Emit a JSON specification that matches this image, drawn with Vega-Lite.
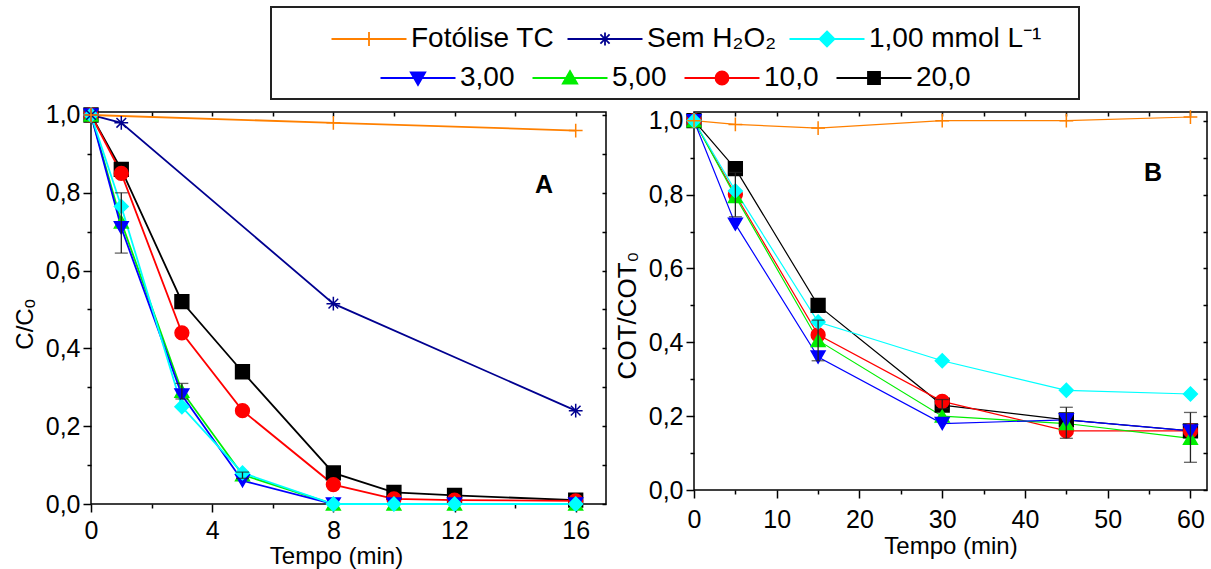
{
 "$schema": "https://vega.github.io/schema/vega-lite/v6.json",
 "background": "white",
 "padding": {"left": 12, "top": 6, "right": 0, "bottom": 0},
 "config": {
  "font": "Liberation Sans",
  "view": {"stroke": "black", "strokeWidth": 1.5},
  "axis": {"grid": false, "domain": false, "tickColor": "black", "tickWidth": 1.5, "labelColor": "black", "labelFont": "Liberation Sans", "labelFontSize": 25, "titleFont": "Liberation Sans", "titleFontSize": 24, "titleFontWeight": "normal", "titleColor": "black", "labelFlush": false, "labelOverlap": false},
  "legend": {"labelFont": "Liberation Sans", "labelColor": "black", "labelFontSize": 28, "labelLimit": 600}
 },
 "datasets": {
  "A": [
   {"serie": "20,0", "t": 0, "v": 1.0}, {"serie": "20,0", "t": 1, "v": 0.86}, {"serie": "20,0", "t": 3, "v": 0.52}, {"serie": "20,0", "t": 5, "v": 0.34}, {"serie": "20,0", "t": 8, "v": 0.08}, {"serie": "20,0", "t": 10, "v": 0.03}, {"serie": "20,0", "t": 12, "v": 0.022}, {"serie": "20,0", "t": 16, "v": 0.01},
   {"serie": "10,0", "t": 0, "v": 1.0}, {"serie": "10,0", "t": 1, "v": 0.85}, {"serie": "10,0", "t": 3, "v": 0.44}, {"serie": "10,0", "t": 5, "v": 0.24}, {"serie": "10,0", "t": 8, "v": 0.05}, {"serie": "10,0", "t": 10, "v": 0.013}, {"serie": "10,0", "t": 12, "v": 0.01}, {"serie": "10,0", "t": 16, "v": 0.008},
   {"serie": "5,00", "t": 0, "v": 1.0}, {"serie": "5,00", "t": 1, "v": 0.725}, {"serie": "5,00", "t": 3, "v": 0.29}, {"serie": "5,00", "t": 5, "v": 0.075}, {"serie": "5,00", "t": 8, "v": 0.0}, {"serie": "5,00", "t": 10, "v": 0.0}, {"serie": "5,00", "t": 12, "v": 0.0}, {"serie": "5,00", "t": 16, "v": 0.0},
   {"serie": "3,00", "t": 0, "v": 1.0}, {"serie": "3,00", "t": 1, "v": 0.71}, {"serie": "3,00", "t": 3, "v": 0.28}, {"serie": "3,00", "t": 5, "v": 0.06}, {"serie": "3,00", "t": 8, "v": 0.0}, {"serie": "3,00", "t": 10, "v": 0.0}, {"serie": "3,00", "t": 12, "v": 0.0}, {"serie": "3,00", "t": 16, "v": 0.0},
   {"serie": "1,00 mmol L⁻¹", "t": 0, "v": 1.0}, {"serie": "1,00 mmol L⁻¹", "t": 1, "v": 0.765}, {"serie": "1,00 mmol L⁻¹", "t": 3, "v": 0.25}, {"serie": "1,00 mmol L⁻¹", "t": 5, "v": 0.08}, {"serie": "1,00 mmol L⁻¹", "t": 8, "v": 0.0}, {"serie": "1,00 mmol L⁻¹", "t": 10, "v": 0.0}, {"serie": "1,00 mmol L⁻¹", "t": 12, "v": 0.0}, {"serie": "1,00 mmol L⁻¹", "t": 16, "v": 0.0},
   {"serie": "Sem H₂O₂", "t": 0, "v": 1.0}, {"serie": "Sem H₂O₂", "t": 1, "v": 0.98}, {"serie": "Sem H₂O₂", "t": 8, "v": 0.515}, {"serie": "Sem H₂O₂", "t": 16, "v": 0.24},
   {"serie": "Fotólise TC", "t": 0, "v": 1.0}, {"serie": "Fotólise TC", "t": 8, "v": 0.98}, {"serie": "Fotólise TC", "t": 16, "v": 0.96}
  ],
  "errA": [
   {"t": 1, "lo": 0.645, "hi": 0.8}, {"t": 3, "lo": 0.27, "hi": 0.31}, {"t": 5, "lo": 0.066, "hi": 0.082}
  ],
  "B": [
   {"serie": "20,0", "t": 0, "v": 1.0}, {"serie": "20,0", "t": 5, "v": 0.87}, {"serie": "20,0", "t": 15, "v": 0.5}, {"serie": "20,0", "t": 30, "v": 0.23}, {"serie": "20,0", "t": 45, "v": 0.19}, {"serie": "20,0", "t": 60, "v": 0.16},
   {"serie": "10,0", "t": 0, "v": 1.0}, {"serie": "10,0", "t": 5, "v": 0.8}, {"serie": "10,0", "t": 15, "v": 0.42}, {"serie": "10,0", "t": 30, "v": 0.24}, {"serie": "10,0", "t": 45, "v": 0.16}, {"serie": "10,0", "t": 60, "v": 0.16},
   {"serie": "5,00", "t": 0, "v": 1.0}, {"serie": "5,00", "t": 5, "v": 0.795}, {"serie": "5,00", "t": 15, "v": 0.405}, {"serie": "5,00", "t": 30, "v": 0.2}, {"serie": "5,00", "t": 45, "v": 0.18}, {"serie": "5,00", "t": 60, "v": 0.14},
   {"serie": "3,00", "t": 0, "v": 1.0}, {"serie": "3,00", "t": 5, "v": 0.72}, {"serie": "3,00", "t": 15, "v": 0.36}, {"serie": "3,00", "t": 30, "v": 0.18}, {"serie": "3,00", "t": 45, "v": 0.19}, {"serie": "3,00", "t": 60, "v": 0.16},
   {"serie": "1,00 mmol L⁻¹", "t": 0, "v": 1.0}, {"serie": "1,00 mmol L⁻¹", "t": 5, "v": 0.81}, {"serie": "1,00 mmol L⁻¹", "t": 15, "v": 0.455}, {"serie": "1,00 mmol L⁻¹", "t": 30, "v": 0.35}, {"serie": "1,00 mmol L⁻¹", "t": 45, "v": 0.27}, {"serie": "1,00 mmol L⁻¹", "t": 60, "v": 0.26},
   {"serie": "Fotólise TC", "t": 0, "v": 1.0}, {"serie": "Fotólise TC", "t": 5, "v": 0.99}, {"serie": "Fotólise TC", "t": 15, "v": 0.98}, {"serie": "Fotólise TC", "t": 30, "v": 1.0}, {"serie": "Fotólise TC", "t": 45, "v": 1.0}, {"serie": "Fotólise TC", "t": 60, "v": 1.01}
  ],
  "errB": [
   {"t": 5, "lo": 0.74, "hi": 0.86}, {"t": 15, "lo": 0.35, "hi": 0.46}, {"t": 30, "lo": 0.22, "hi": 0.245}, {"t": 45, "lo": 0.14, "hi": 0.224}, {"t": 60, "lo": 0.075, "hi": 0.21}
  ]
 },
 "spacing": 2,
 "vconcat": [
  {
   "spacing": 10,
   "hconcat": [
    {"width": 169, "height": 92, "view": {"stroke": null}, "data": {"values": []}, "mark": "point", "encoding": {}},
    {
     "width": 808, "height": 92,
     "view": {"stroke": "#222", "strokeWidth": 2},
     "resolve": {"scale": {"fill": "independent", "stroke": "independent", "shape": "independent"}},
     "layer": [
      {
       "data": {"values": []},
       "mark": {"type": "point", "filled": true, "opacity": 1},
       "encoding": {
        "fill": {"field": "serie", "type": "nominal", "scale": {"domain": ["Fotólise TC", "Sem H₂O₂", "1,00 mmol L⁻¹"], "range": ["#FF8000", "#000090", "#00FFFF"]},
          "legend": {"title": null, "orient": "none", "legendX": 59, "legendY": 18, "direction": "horizontal", "columns": 3, "symbolSize": 400, "symbolStrokeWidth": 1.8, "symbolOffset": 25, "labelOffset": 28, "columnPadding": 8, "padding": 0}},
        "stroke": {"field": "serie", "type": "nominal", "scale": {"domain": ["Fotólise TC", "Sem H₂O₂", "1,00 mmol L⁻¹"], "range": ["#FF8000", "#000090", "#00FFFF"]},
          "legend": {"title": null, "orient": "none", "legendX": 59, "legendY": 18, "direction": "horizontal", "columns": 3, "symbolSize": 400, "symbolStrokeWidth": 1.8, "symbolOffset": 25, "labelOffset": 28, "columnPadding": 8, "padding": 0}},
        "shape": {"field": "serie", "type": "nominal", "scale": {"domain": ["Fotólise TC", "Sem H₂O₂", "1,00 mmol L⁻¹"], "range": ["M-3.75,0H3.75M0,-0.7V0.7", "M-3.75,0H3.75M0,-0.65V0.65M-0.46,-0.46L0.46,0.46M-0.46,0.46L0.46,-0.46", "M-3.75,0H3.75M0,-0.75L0.75,0L0,0.75L-0.75,0Z"]},
          "legend": {"title": null, "orient": "none", "legendX": 59, "legendY": 18, "direction": "horizontal", "columns": 3, "symbolSize": 400, "symbolStrokeWidth": 1.8, "symbolOffset": 25, "labelOffset": 28, "columnPadding": 8, "padding": 0}}
       }
      },
      {
       "data": {"values": []},
       "mark": {"type": "point", "filled": true, "opacity": 1},
       "encoding": {
        "fill": {"field": "serie", "type": "nominal", "scale": {"domain": ["3,00", "5,00", "10,0", "20,0"], "range": ["#0000FF", "#00EE00", "#FF0000", "#000000"]},
          "legend": {"title": null, "orient": "none", "legendX": 108, "legendY": 57, "direction": "horizontal", "columns": 4, "symbolSize": 400, "symbolStrokeWidth": 1.8, "symbolOffset": 25, "labelOffset": 28, "columnPadding": 13, "padding": 0}},
        "stroke": {"field": "serie", "type": "nominal", "scale": {"domain": ["3,00", "5,00", "10,0", "20,0"], "range": ["#0000FF", "#00EE00", "#FF0000", "#000000"]},
          "legend": {"title": null, "orient": "none", "legendX": 108, "legendY": 57, "direction": "horizontal", "columns": 4, "symbolSize": 400, "symbolStrokeWidth": 1.8, "symbolOffset": 25, "labelOffset": 28, "columnPadding": 13, "padding": 0}},
        "shape": {"field": "serie", "type": "nominal", "scale": {"domain": ["3,00", "5,00", "10,0", "20,0"], "range": ["M-3.75,0H3.75M-0.72,-0.55L0.72,-0.55L0,0.7Z", "M-3.75,0H3.75M-0.72,0.55L0.72,0.55L0,-0.7Z", "M-3.75,0H3.75M-0.65,0A0.65,0.65,0,1,0,0.65,0A0.65,0.65,0,1,0,-0.65,0Z", "M-3.75,0H3.75M-0.6,-0.6H0.6V0.6H-0.6Z"]},
          "legend": {"title": null, "orient": "none", "legendX": 108, "legendY": 57, "direction": "horizontal", "columns": 4, "symbolSize": 400, "symbolStrokeWidth": 1.8, "symbolOffset": 25, "labelOffset": 28, "columnPadding": 13, "padding": 0}}
       }
      }
     ]
    }
   ]
  },
  {
   "spacing": 88,
   "bounds": "flush",
   "hconcat": [
    {
     "width": 515, "height": 392,
     "title": {"text": "A", "anchor": "end", "frame": "group", "orient": "top", "offset": -95, "dx": -53, "fontSize": 25, "fontWeight": "bold", "font": "Liberation Sans", "color": "black"},
     "data": {"name": "A"},
     "resolve": {"axis": {"x": "independent", "y": "independent"}},
     "layer": [
      {
       "data": {"values": []},
       "mark": "point",
       "encoding": {
        "x": {"field": "t", "type": "quantitative", "scale": {"domain": [0, 17], "nice": false, "zero": false},
          "axis": {"orient": "bottom", "values": [0, 4, 8, 12, 16], "tickSize": 8, "labelPadding": 6, "title": "Tempo (min)", "titlePadding": 1, "titleX": 245}},
        "y": {"field": "v", "type": "quantitative", "scale": {"domain": [0, 1.0077], "nice": false, "zero": false},
          "axis": {"orient": "left", "values": [0, 0.2, 0.4, 0.6, 0.8, 1.0], "tickSize": 8, "labelPadding": 3, "labelExpr": "replace(format(datum.value, '.1f'), '.', ',')", "title": "C/Cₒ", "titlePadding": 8, "titleY": 212}}
       }
      },
      {
       "data": {"values": []},
       "mark": "point",
       "encoding": {
        "x": {"field": "t", "type": "quantitative", "scale": {"domain": [0, 17], "nice": false, "zero": false},
          "axis": {"orient": "bottom", "values": [2, 6, 10, 14], "tickSize": 4, "labels": false, "title": null}},
        "y": {"field": "v", "type": "quantitative", "scale": {"domain": [0, 1.0077], "nice": false, "zero": false},
          "axis": {"orient": "left", "values": [0.1, 0.3, 0.5, 0.7, 0.9], "tickSize": 4, "labels": false, "title": null}}
       }
      },
      {
       "data": {"values": []},
       "mark": "point",
       "encoding": {
        "x": {"field": "t", "type": "quantitative", "scale": {"domain": [0, 17], "nice": false, "zero": false},
          "axis": {"orient": "top", "values": [0, 2, 4, 6, 8, 10, 12, 14, 16], "tickSize": -4, "labels": false, "title": null}},
        "y": {"field": "v", "type": "quantitative", "scale": {"domain": [0, 1.0077], "nice": false, "zero": false},
          "axis": {"orient": "right", "values": [0, 0.1, 0.2, 0.3, 0.4, 0.5, 0.6, 0.7, 0.8, 0.9, 1.0], "tickSize": -4, "labels": false, "title": null}}
       }
      },
      {
       "mark": {"type": "line", "strokeWidth": 1.8},
       "encoding": {
        "x": {"field": "t", "type": "quantitative", "scale": {"domain": [0, 17], "nice": false, "zero": false}, "axis": null},
        "y": {"field": "v", "type": "quantitative", "scale": {"domain": [0, 1.0077], "nice": false, "zero": false}, "axis": null},
        "stroke": {"field": "serie", "type": "nominal", "legend": null, "scale": {"domain": ["Fotólise TC", "Sem H₂O₂", "1,00 mmol L⁻¹", "3,00", "5,00", "10,0", "20,0"], "range": ["#FF8000", "#000090", "#00FFFF", "#0000FF", "#00EE00", "#FF0000", "#000000"]}}
       }
      },
      {
       "mark": {"type": "point", "filled": true, "size": 190, "opacity": 1, "strokeWidth": 1.5},
       "encoding": {
        "x": {"field": "t", "type": "quantitative", "scale": {"domain": [0, 17], "nice": false, "zero": false}, "axis": null},
        "y": {"field": "v", "type": "quantitative", "scale": {"domain": [0, 1.0077], "nice": false, "zero": false}, "axis": null},
        "fill": {"field": "serie", "type": "nominal", "legend": null, "scale": {"domain": ["Fotólise TC", "Sem H₂O₂", "1,00 mmol L⁻¹", "3,00", "5,00", "10,0", "20,0"], "range": ["#FF8000", "#000090", "#00FFFF", "#0000FF", "#00EE00", "#FF0000", "#000000"]}},
        "stroke": {"field": "serie", "type": "nominal", "legend": null, "scale": {"domain": ["Fotólise TC", "Sem H₂O₂", "1,00 mmol L⁻¹", "3,00", "5,00", "10,0", "20,0"], "range": ["#FF8000", "#000090", "#00FFFF", "#0000FF", "#00EE00", "#FF0000", "#000000"]}},
        "shape": {"field": "serie", "type": "nominal", "legend": null, "scale": {"domain": ["Fotólise TC", "Sem H₂O₂", "1,00 mmol L⁻¹", "3,00", "5,00", "10,0", "20,0"], "range": ["M-1,0H1M0,-1V1", "M-1,0H1M0,-1V1M-0.7,-0.7L0.7,0.7M-0.7,0.7L0.7,-0.7", "M0,-1L1,0L0,1L-1,0Z", "triangle-down", "triangle-up", "circle", "square"]}}
       }
      },
      {
       "data": {"name": "errA"},
       "mark": {"type": "errorbar", "ticks": {"size": 13, "color": "#222", "thickness": 1.3}, "rule": {"color": "#222", "strokeWidth": 1.3}},
       "encoding": {
        "x": {"field": "t", "type": "quantitative", "scale": {"domain": [0, 17], "nice": false, "zero": false}, "axis": null},
        "y": {"field": "lo", "type": "quantitative", "scale": {"domain": [0, 1.0077], "nice": false, "zero": false}, "axis": null},
        "y2": {"field": "hi"}
       }
      }
     ]
    },
    {
     "width": 513, "height": 378,
     "title": {"text": "B", "anchor": "end", "frame": "group", "orient": "top", "offset": -79, "dx": -45, "fontSize": 25, "fontWeight": "bold", "font": "Liberation Sans", "color": "black"},
     "data": {"name": "B"},
     "resolve": {"axis": {"x": "independent", "y": "independent"}},
     "layer": [
      {
       "data": {"values": []},
       "mark": "point",
       "encoding": {
        "x": {"field": "t", "type": "quantitative", "scale": {"domain": [0, 62], "nice": false, "zero": false},
          "axis": {"orient": "bottom", "values": [0, 10, 20, 30, 40, 50, 60], "tickSize": 8, "labelPadding": 9, "title": "Tempo (min)", "titlePadding": 2}},
        "y": {"field": "v", "type": "quantitative", "scale": {"domain": [0, 1.0236], "nice": false, "zero": false},
          "axis": {"orient": "left", "values": [0, 0.2, 0.4, 0.6, 0.8, 1.0], "tickSize": 8, "labelPadding": 3, "labelExpr": "replace(format(datum.value, '.1f'), '.', ',')", "title": "COT/COT₀", "titleFontSize": 26, "titlePadding": 8, "titleY": 203}}
       }
      },
      {
       "data": {"values": []},
       "mark": "point",
       "encoding": {
        "x": {"field": "t", "type": "quantitative", "scale": {"domain": [0, 62], "nice": false, "zero": false},
          "axis": {"orient": "bottom", "values": [5, 15, 25, 35, 45, 55], "tickSize": 4, "labels": false, "title": null}},
        "y": {"field": "v", "type": "quantitative", "scale": {"domain": [0, 1.0236], "nice": false, "zero": false},
          "axis": {"orient": "left", "values": [0.1, 0.3, 0.5, 0.7, 0.9], "tickSize": 4, "labels": false, "title": null}}
       }
      },
      {
       "data": {"values": []},
       "mark": "point",
       "encoding": {
        "x": {"field": "t", "type": "quantitative", "scale": {"domain": [0, 62], "nice": false, "zero": false},
          "axis": {"orient": "top", "values": [0, 5, 10, 15, 20, 25, 30, 35, 40, 45, 50, 55, 60], "tickSize": -4, "labels": false, "title": null}},
        "y": {"field": "v", "type": "quantitative", "scale": {"domain": [0, 1.0236], "nice": false, "zero": false},
          "axis": {"orient": "right", "values": [0, 0.1, 0.2, 0.3, 0.4, 0.5, 0.6, 0.7, 0.8, 0.9, 1.0], "tickSize": -4, "labels": false, "title": null}}
       }
      },
      {
       "mark": {"type": "line", "strokeWidth": 1.2},
       "encoding": {
        "x": {"field": "t", "type": "quantitative", "scale": {"domain": [0, 62], "nice": false, "zero": false}, "axis": null},
        "y": {"field": "v", "type": "quantitative", "scale": {"domain": [0, 1.0236], "nice": false, "zero": false}, "axis": null},
        "stroke": {"field": "serie", "type": "nominal", "legend": null, "scale": {"domain": ["Fotólise TC", "Sem H₂O₂", "1,00 mmol L⁻¹", "3,00", "5,00", "10,0", "20,0"], "range": ["#FF8000", "#000090", "#00FFFF", "#0000FF", "#00EE00", "#FF0000", "#000000"]}}
       }
      },
      {
       "mark": {"type": "point", "filled": true, "size": 190, "opacity": 1, "strokeWidth": 1.5},
       "encoding": {
        "x": {"field": "t", "type": "quantitative", "scale": {"domain": [0, 62], "nice": false, "zero": false}, "axis": null},
        "y": {"field": "v", "type": "quantitative", "scale": {"domain": [0, 1.0236], "nice": false, "zero": false}, "axis": null},
        "fill": {"field": "serie", "type": "nominal", "legend": null, "scale": {"domain": ["Fotólise TC", "Sem H₂O₂", "1,00 mmol L⁻¹", "3,00", "5,00", "10,0", "20,0"], "range": ["#FF8000", "#000090", "#00FFFF", "#0000FF", "#00EE00", "#FF0000", "#000000"]}},
        "stroke": {"field": "serie", "type": "nominal", "legend": null, "scale": {"domain": ["Fotólise TC", "Sem H₂O₂", "1,00 mmol L⁻¹", "3,00", "5,00", "10,0", "20,0"], "range": ["#FF8000", "#000090", "#00FFFF", "#0000FF", "#00EE00", "#FF0000", "#000000"]}},
        "shape": {"field": "serie", "type": "nominal", "legend": null, "scale": {"domain": ["Fotólise TC", "Sem H₂O₂", "1,00 mmol L⁻¹", "3,00", "5,00", "10,0", "20,0"], "range": ["M-1,0H1M0,-1V1", "M-1,0H1M0,-1V1M-0.7,-0.7L0.7,0.7M-0.7,0.7L0.7,-0.7", "M0,-1L1,0L0,1L-1,0Z", "triangle-down", "triangle-up", "circle", "square"]}}
       }
      },
      {
       "data": {"name": "errB"},
       "mark": {"type": "errorbar", "ticks": {"size": 13, "color": "#222", "thickness": 1.3}, "rule": {"color": "#222", "strokeWidth": 1.3}},
       "encoding": {
        "x": {"field": "t", "type": "quantitative", "scale": {"domain": [0, 62], "nice": false, "zero": false}, "axis": null},
        "y": {"field": "lo", "type": "quantitative", "scale": {"domain": [0, 1.0236], "nice": false, "zero": false}, "axis": null},
        "y2": {"field": "hi"}
       }
      }
     ]
    }
   ]
  }
 ]
}
